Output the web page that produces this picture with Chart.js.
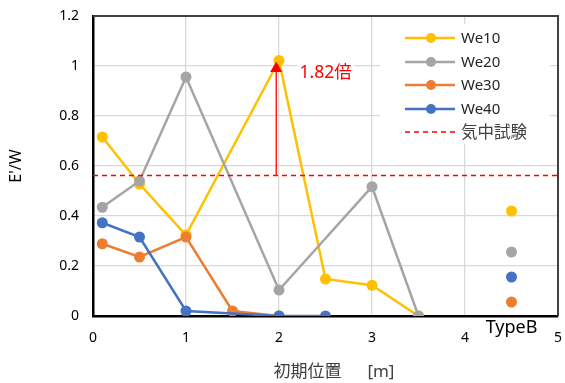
<!DOCTYPE html>
<html>
<head>
<meta charset="utf-8">
<script src="https://cdn.jsdelivr.net/npm/chart.js@4"></script>
<style>
  html, body { margin: 0; padding: 0; background: #fff; }
  #wrap { width: 565px; height: 383px; }
</style>
</head>
<body>
<div id="wrap"><canvas id="c" width="565" height="383"></canvas></div>
<script>
// 初期位置 [m]
const positions = [0.1, 0.5, 1, 1.5, 2, 2.5, 3, 3.5];
// E'/W (null = no point)
const we10 = [0.716, 0.528, 0.324, null, 1.022, 0.148, 0.123, 0];
const we20 = [0.435, 0.540, 0.956, null, 0.104, null, 0.517, 0];
const we30 = [0.289, 0.236, 0.316, 0.020, 0, null, null, null];
const we40 = [0.373, 0.316, 0.020, null, 0, 0, null, null];

// TypeB (single points at x=4.5)
const typeBX = 4.5;
const typeBValues = [0.420, 0.256, 0.056, 0.156]; // We10, We20, We30, We40

const airTest = 0.562;          // 気中試験
const arrowX = 1.97;
const arrowTop = 0.99;
const ratioLabel = '1.82倍';

const seriesNames  = ['We10', 'We20', 'We30', 'We40'];
const seriesColors = ['#FFC000', '#A5A5A5', '#ED7D31', '#4472C4'];
const seriesValues = [we10, we20, we30, we40];

const FONT = "'Noto Sans', 'Noto Sans CJK JP', sans-serif";

function toPts(vals) {
    const out = [];
    vals.forEach((v, i) => { if (v !== null) out.push({ x: positions[i], y: v }); });
    return out;
}

const lineSets = seriesValues.map((vals, i) => ({
    label: seriesNames[i],
    data: toPts(vals),
    showLine: true,
    borderColor: seriesColors[i],
    backgroundColor: seriesColors[i],
    borderWidth: 2.5,
    pointRadius: 5.5,
    pointBorderWidth: 0,
    order: 4 - i
}));

const typeBSet = {
    label: 'TypeB',
    data: typeBValues.map(v => ({ x: typeBX, y: v })),
    showLine: false,
    backgroundColor: seriesColors,
    borderColor: seriesColors,
    pointRadius: 5.5,
    pointBorderWidth: 0,
    order: 0
};

const airSet = {
    label: '気中試験',
    data: [{ x: 0, y: airTest }, { x: 5, y: airTest }],
    showLine: true,
    borderColor: '#FF0000',
    borderWidth: 1.3,
    borderDash: [5, 4],
    pointRadius: 0,
    order: 0
};

const arrowSet = {
    label: 'arrow',
    data: [{ x: arrowX, y: airTest }, { x: arrowX, y: arrowTop }],
    showLine: true,
    borderColor: '#FF0000',
    backgroundColor: '#FF0000',
    borderWidth: 1.3,
    pointStyle: 'triangle',
    pointRadius: [0, 7],
    pointBorderWidth: 0,
    order: 0
};

// 凡例・注記・枠
const decor = {
    id: 'decor',
    beforeDatasetsDraw(chart) {
        const { ctx, scales: { x, y } } = chart;
        ctx.save();
        // legend box (covers gridlines)
        ctx.fillStyle = '#fff';
        ctx.fillRect(380, 24, 170, 120);
        // label background
        ctx.font = '17.5px ' + FONT;
        const lx = x.getPixelForValue(2.22), ly = y.getPixelForValue(0.97);
        const w = ctx.measureText(ratioLabel).width;
        ctx.fillRect(lx - 2, ly - 10, w + 4, 20);
        ctx.restore();
    },
    afterDatasetsDraw(chart) {
        const { ctx, chartArea: a, scales: { x, y } } = chart;
        ctx.save();
        // top / right frame
        ctx.strokeStyle = '#404040';
        ctx.lineWidth = 2;
        ctx.beginPath();
        ctx.moveTo(a.left, a.top); ctx.lineTo(a.right, a.top); ctx.lineTo(a.right, a.bottom);
        ctx.stroke();

        // ratio label
        ctx.font = '17.5px ' + FONT;
        ctx.fillStyle = '#FF0000';
        ctx.textBaseline = 'middle';
        ctx.fillText(ratioLabel, x.getPixelForValue(2.22), y.getPixelForValue(0.97));

        // legend
        const rows = [38, 62, 85, 109, 132];
        ctx.font = '15px ' + FONT;
        seriesNames.forEach((n, i) => {
            const ry = rows[i];
            ctx.strokeStyle = seriesColors[i];
            ctx.lineWidth = 2.5;
            ctx.beginPath(); ctx.moveTo(405, ry); ctx.lineTo(455, ry); ctx.stroke();
            ctx.fillStyle = seriesColors[i];
            ctx.beginPath(); ctx.arc(431, ry, 5, 0, Math.PI * 2); ctx.fill();
            ctx.fillStyle = '#262626';
            ctx.fillText(n, 461, ry + 1);
        });
        ctx.strokeStyle = '#FF0000';
        ctx.lineWidth = 1.3;
        ctx.setLineDash([5, 4]);
        ctx.beginPath(); ctx.moveTo(405, rows[4]); ctx.lineTo(455, rows[4]); ctx.stroke();
        ctx.setLineDash([]);
        ctx.font = '16.5px ' + FONT;
        ctx.fillStyle = '#404040';
        ctx.fillText('気中試験', 461, rows[4] + 1);

        // TypeB label
        ctx.font = '18px ' + FONT;
        ctx.fillStyle = '#000';
        ctx.textAlign = 'center';
        ctx.fillText('TypeB', x.getPixelForValue(typeBX), a.bottom + 12);
        ctx.restore();
    }
};

new Chart(document.getElementById('c'), {
    type: 'scatter',
    data: { datasets: [...lineSets, typeBSet, airSet, arrowSet] },
    options: {
        responsive: false,
        animation: false,
        layout: { padding: { left: 0, right: 6, top: 16, bottom: 0 } },
        plugins: { legend: { display: false }, tooltip: { enabled: false } },
        scales: {
            x: {
                type: 'linear', min: 0, max: 5,
                ticks: { stepSize: 1, padding: 14, color: '#000', font: { family: FONT, size: 14 } },
                grid: { color: '#d9d9d9', lineWidth: 1.3, drawTicks: false },
                border: { color: '#000', width: 2.5 },
                title: { display: true, text: '　初期位置　  [m]', color: '#404040',
                         font: { family: FONT, size: 17 }, padding: { top: 0, bottom: 1 } },
                afterFit: s => { s.height = 67; s.paddingRight = 0; s.paddingLeft = 0; }
            },
            y: {
                min: 0, max: 1.2,
                ticks: { stepSize: 0.2, padding: 14, color: '#000', font: { family: FONT, size: 14 },
                         callback: v => +v.toFixed(1) + '' },
                grid: { color: '#d9d9d9', lineWidth: 1.3, drawTicks: false },
                border: { color: '#000', width: 2.5 },
                title: { display: true, text: "E'/W", color: '#000',
                         font: { family: FONT, size: 16 }, padding: { top: 7, bottom: 0 } },
                afterFit: s => { s.width = 93; s.paddingTop = 0; s.paddingBottom = 0; }
            }
        }
    },
    plugins: [decor]
});
</script>
</body>
</html>
